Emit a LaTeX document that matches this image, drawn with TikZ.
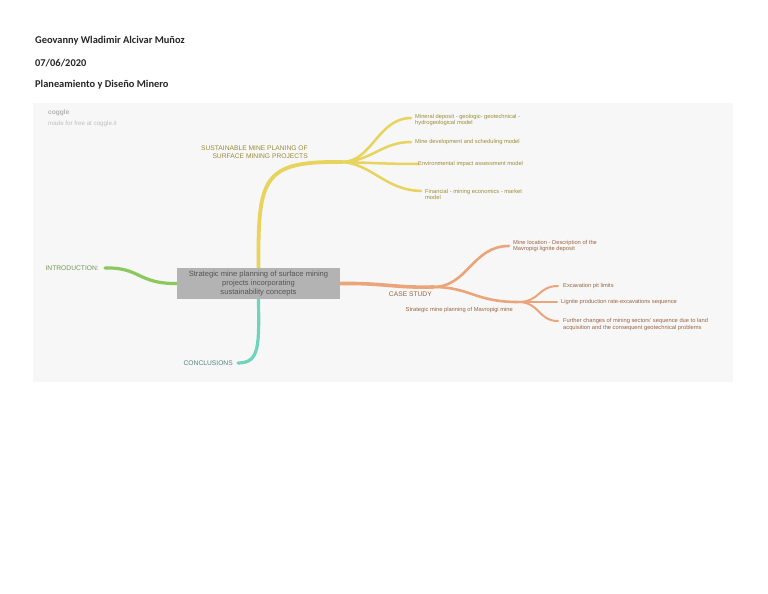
\documentclass[tikz,border=0pt]{standalone}
\usepackage{fontspec}
\setmainfont{Liberation Sans}
\newfontfamily\hdrfont{Carlito}
\definecolor{bgc}{HTML}{F7F7F7}
\definecolor{ylw}{HTML}{E8D35C}
\definecolor{ylwtxt}{HTML}{9C8C38}
\definecolor{org}{HTML}{EBA57A}
\definecolor{orgtxt}{HTML}{9A6442}
\definecolor{grn}{HTML}{8CC85E}
\definecolor{grntxt}{HTML}{6E9A52}
\definecolor{tel}{HTML}{6FD3BE}
\definecolor{teltxt}{HTML}{4E8486}
\definecolor{cbox}{HTML}{B3B3B3}
\definecolor{ctxt}{HTML}{555555}
\pgfdeclarelayer{bglayer}
\pgfdeclarelayer{brlayer}
\pgfsetlayers{bglayer,brlayer,main}
\begin{document}
\begin{tikzpicture}[x=1pt,y=-1pt,
  hdr/.style={anchor=west,inner sep=0pt,font=\hdrfont\bfseries\fontsize{10.4}{12}\selectfont,text=black!85},
  central/.style={fill=cbox,minimum width=163pt,minimum height=31pt,inner sep=0pt,align=center,
    text=ctxt,font=\fontsize{7.6}{9}\selectfont},
  lbl/.style={inner sep=0pt,font=\fontsize{6.7}{8}\selectfont},
  leaf/.style={anchor=west,inner sep=0pt,align=left,font=\fontsize{5.75}{6.8}\selectfont},
  br/.style={line cap=round,line width=#1},
  br/.default=3pt]
\useasboundingbox (0,0) rectangle (768,594);
\begin{pgfonlayer}{bglayer}
\fill[white] (0,0) rectangle (768,594);
\fill[bgc] (33,103) rectangle (733,382);
\end{pgfonlayer}

% header
\node[hdr] (author) at (35,41) {Geovanny Wladimir Alcivar Muñoz};
\node[hdr] (date) at (35,63) {07/06/2020};
\node[hdr] (course) at (35,85) {Planeamiento y Diseño Minero};

% coggle mark
\node[anchor=west,inner sep=0pt,text=black!30,font=\bfseries\fontsize{6.6}{7}\selectfont] (logo) at (48,113) {coggle};
\node[anchor=west,inner sep=0pt,text=black!25,font=\fontsize{6.2}{7}\selectfont] (made) at (48,123.5) {made for free at coggle.it};

% central
\node[central] (c) at (258.5,283.5) {Strategic mine planning of surface mining\\projects incorporating\\sustainability concepts};

% text nodes
\coordinate (yj) at (342,162);
\node[lbl,anchor=east,align=right,text=ylwtxt] (sust) at (308,152) {SUSTAINABLE MINE PLANING OF\\SURFACE MINING PROJECTS};
\node[leaf,text=ylwtxt] (y1) at (415,120) {Mineral deposit - geologic- geotechnical -\\hydrogeological model};
\node[leaf,text=ylwtxt] (y2) at (415,142) {Mine development and scheduling model};
\node[leaf,text=ylwtxt] (y3) at (418,164) {Environmental impact assessment model};
\node[leaf,text=ylwtxt] (y4) at (425,194.5) {Financial - mining economics - market\\model};
\node[lbl,anchor=east,text=grntxt] (intro) at (99,268.5) {INTRODUCTION:};
\coordinate (gi) at (105,268);
\node[lbl,anchor=east,text=teltxt] (concl) at (233,363.5) {CONCLUSIONS};
\coordinate (ti) at (238,363);
\coordinate (oj) at (433,287);
\node[lbl,anchor=east,text=orgtxt] (case) at (432,294) {CASE STUDY};
\node[leaf,text=orgtxt] (o1) at (513,246) {Mine location - Description of the\\Mavropigi lignite deposit};
\coordinate (o2) at (518,302);
\node[leaf,anchor=east,text=orgtxt] (mav) at (513,310.5) {Strategic mine planning of Mavropigi mine};
\node[leaf,text=orgtxt] (e1) at (563,286.5) {Excavation pit limits};
\node[leaf,text=orgtxt] (e2) at (561,302.5) {Lignite production rate-excavations sequence};
\node[leaf,text=orgtxt] (e3) at (563,324.5) {Further changes of mining sectors' sequence due to land\\acquisition and the consequent geotechnical problems};

\begin{pgfonlayer}{brlayer}
% yellow
\draw[br=3.8pt,ylw] (c.north) .. controls (258,178) and (262,161) .. (yj);
\draw[br=2.5pt,ylw] (yj) .. controls (372,162) and (378,118) .. (411,118);
\draw[br=2.5pt,ylw] (yj) .. controls (372,161) and (382,142) .. (411,142);
\draw[br=2.5pt,ylw] (yj) .. controls (375,163) and (390,164) .. (y3.west);
\draw[br=2.5pt,ylw] (yj) .. controls (372,164) and (385,190) .. (421,191);
% green
\draw[br=3.2pt,grn] (gi) .. controls (140,267) and (138,284) .. (c.west);
% teal
\draw[br=3.2pt,tel] (c.south) .. controls (259,345) and (260,363) .. (ti);
% orange
\draw[br=3.6pt,org] (c.east) .. controls (385,283) and (395,288) .. (oj);
\draw[br=2.6pt,org] (oj) .. controls (468,287) and (472,246) .. (509,246);
\draw[br=2.6pt,org] (oj) .. controls (470,287) and (475,302) .. (o2);
\draw[br=2pt,org] (o2) .. controls (540,302) and (538,286) .. (558,286);
\draw[br=2pt,org] (o2) -- (557,302);
\draw[br=2pt,org] (o2) .. controls (540,302) and (538,321) .. (558,321);
\end{pgfonlayer}
\end{tikzpicture}
\end{document}
